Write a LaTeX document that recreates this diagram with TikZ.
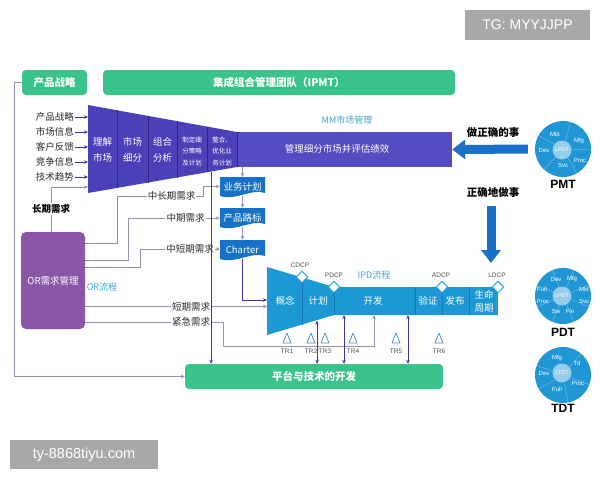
\documentclass[tikz,border=0pt]{standalone}
\usepackage{fontspec}
\newfontfamily\cjk{Noto Sans CJK SC}
\newfontfamily\lat{Liberation Sans}
\usetikzlibrary{arrows.meta,shapes.geometric,calc}
\definecolor{grn}{RGB}{58,196,140}
\definecolor{fpur}{RGB}{76,64,184}
\definecolor{rpur}{RGB}{86,76,194}
\definecolor{orpur}{RGB}{139,86,168}
\definecolor{ipd}{RGB}{28,152,212}
\definecolor{ipddiv}{RGB}{20,120,185}
\definecolor{docb}{RGB}{22,114,200}
\definecolor{arrb}{RGB}{26,112,200}
\definecolor{circ}{RGB}{32,150,212}
\definecolor{lcirc}{RGB}{150,205,236}
\definecolor{lbl}{RGB}{66,164,210}
\definecolor{glinec}{RGB}{150,144,180}
\definecolor{dlinec}{RGB}{64,52,152}
\definecolor{fdiv}{RGB}{48,38,130}
\definecolor{wm}{RGB}{168,168,168}
\definecolor{trc}{RGB}{70,135,185}
\definecolor{txt}{RGB}{40,40,40}
\newcommand\myfs[1]{\fontsize{#1}{#1}\selectfont}
\newcommand\mydoc[4]{%
  \fill[docb] (#2,#3) -- (#2+45,#3) -- (#2+45,#3+16) .. controls (#2+32,#3+11) and (#2+16,#3+24) .. (#2,#3+19) -- cycle;
  \node[doctext] (#1) at (#2+22.5,#3+9.5) {#4};}
\begin{document}
\begin{tikzpicture}[x=1pt,y=-1pt,
  every node/.style={font=\cjk\myfs{9.5}, inner sep=1pt, text=txt},
  gbox/.style={fill=grn, rounded corners=4pt, text=white, font=\cjk\bfseries\myfs{10.5}, inner sep=0pt},
  wt/.style={text=white, align=center},
  fl/.style={text=white, align=center, font=\cjk\fontsize{9.5}{15.5}\selectfont},
  fls/.style={text=white, align=center, font=\cjk\fontsize{6.5}{11.5}\selectfont},
  doctext/.style={text=white, minimum width=45pt, minimum height=19pt, inner sep=0pt},
  gl/.style={draw=glinec, line width=0.7pt},
  dl/.style={draw=dlinec, line width=0.8pt},
  tip/.style={-{Stealth[length=4pt,width=3.5pt]}},
  dtip/.style={{Stealth[length=4pt,width=3.5pt]}-{Stealth[length=4pt,width=3.5pt]}},
  dmd/.style={diamond, draw=ipd, fill=white, line width=0.9pt, minimum size=12pt, inner sep=0pt},
  cp/.style={font=\lat\myfs{6.5}, text=black!70},
  lb/.style={text=lbl, font=\cjk\myfs{9}},
  bl/.style={font=\cjk\bfseries\myfs{10.5}, text=black},
  cl/.style={font=\lat\myfs{6}, text=white, inner sep=0pt},
  bigc/.style={circle, fill=circ, minimum size=56pt, inner sep=0pt},
  smc/.style={circle, fill=lcirc, minimum size=19pt, inner sep=0pt, text=white, font=\lat\myfs{5.5}},
  sep/.style={white, opacity=0.35, line width=0.5pt},
  bigarr/.style={arrb, line width=9pt, -{Triangle[length=13pt 0,width=19pt 0]}}
]
\useasboundingbox (0,0) rectangle (600,480);

% watermarks
\node[fill=wm, text=white, font=\lat\myfs{14}, minimum width=125pt, minimum height=30pt, inner sep=0pt] (wmtop) at (527.5,25) {TG: MYYJJPP};
\node[fill=wm, text=white, font=\lat\myfs{14.5}, minimum width=148pt, minimum height=29pt, inner sep=0pt] (wmbot) at (84,454.5) {ty-8868tiyu.com};

% top boxes
\node[gbox, minimum width=65pt, minimum height=25pt] (cpzl) at (54.5,82.5) {产品战略};
\node[gbox, minimum width=352pt, minimum height=25pt] (ipmt) at (279,82.5) {集成组合管理团队（IPMT）};

% MM funnel
\fill[fpur] (88,105) -- (237,132) -- (237,167) -- (88,193) -- cycle;
\node[fill=rpur, minimum width=215pt, minimum height=35pt, inner sep=0pt] (mm) at (344.5,149.5) {};
\draw[fdiv, line width=0.6pt] (117,110.3) -- (117,187.9) (148,115.9) -- (148,182.5)
  (177,121.1) -- (177,177.5) (207,126.6) -- (207,172.2) (237,132) -- (237,167);
\node[fl] (f1) at (102.5,150) {理解\\市场};
\node[fl] (f2) at (132.5,150) {市场\\细分};
\node[fl] (f3) at (162.5,150) {组合\\分析};
\node[fls] (f4) at (192,151.5) {制定细\\分策略\\及计划};
\node[fls] (f5) at (222,151.5) {整合、\\优化业\\务计划};
\node[text=white] (mmtxt) at (337,149) {管理细分市场并评估绩效};
\node[lb] (mmlbl) at (347,120) {MM市场管理};

% inputs
\coordinate (fleft) at (88,0);
\foreach \t/\y [count=\i] in {产品战略/117,市场信息/132,客户反馈/147,竞争信息/162,技术趋势/177}{
  \node[anchor=east] (in\i) at (75,\y) {\t};
  \draw[dl, line width=0.6pt, tip] (in\i.east) -- (in\i.east -| fleft);
}

% OR box
\node[fill=orpur, rounded corners=5pt, minimum width=64pt, minimum height=97pt, text=white, inner sep=0pt] (or) at (53,280.5) {OR需求管理};
\node[lb] (orl) at (102,287) {OR流程};

% long-term
\coordinate (ltin) at (88,187);
\draw[gl,tip] ([xshift=-2pt]or.north) |- (ltin);
\node[fill=white, font=\cjk\bfseries\myfs{9.5}, text=black] (cq) at (51,209) {长期需求};

% doc boxes
\mydoc{yw}{220}{177}{业务计划}
\mydoc{cplb}{220}{208}{产品路标}
\mydoc{charter}{220}{240}{Charter}
\draw[gl,tip] (mm.south -| yw) -- (yw.north);
\draw[gl,tip] (yw.south) -- (cplb.north);
\draw[gl,tip] (cplb.south) -- (charter.north);

% platform
\node[gbox, minimum width=258pt, minimum height=25pt] (plat) at (314,376.5) {平台与技术的开发};

% demand labels
\node (zcq) at (171.5,196) {中长期需求};
\node (zq) at (185.5,218) {中期需求};
\node (zdq) at (190,249) {中短期需求};
\node (dq) at (191,306.5) {短期需求};
\node (jj) at (191,322) {紧急需求};

% IPD
\fill[ipd] (267,267) -- (334,287) -- (334,315) -- (267,335) -- cycle;
\node[fill=ipd, minimum width=164pt, minimum height=28pt, inner sep=0pt] (ipdr) at (416,301) {};
\draw[ipddiv, line width=0.6pt] (302,277.4) -- (302,324.6) (334,287) -- (334,315)
  (415,287) -- (415,315) (442,287) -- (442,315) (469,287) -- (469,315);
\node[text=white] (gn) at (285,301) {概念};
\node[text=white] (jh) at (318,301) {计划};
\node[text=white] (kf) at (373,301) {开发};
\node[text=white] (yz) at (428,301) {验证};
\node[text=white] (fbu) at (455,301) {发布};
\node[text=white, align=center, font=\cjk\fontsize{9.5}{13}\selectfont] (smzq) at (484,301.5) {生命\\周期};
\node[dmd] (cdcp) at (302,277) {};
\node[dmd] (pdcp) at (334,287) {};
\node[dmd] (adcp) at (442,287) {};
\node[dmd] (ldcp) at (498,287) {};
\node[cp] (cdcpl) at (300,265) {CDCP};
\node[cp] (pdcpl) at (334,275) {PDCP};
\node[cp] (adcpl) at (441,275) {ADCP};
\node[cp] (ldcpl) at (497,275) {LDCP};
\node[lb] (ipdl) at (374,275) {IPD流程};
\foreach \x/\t [count=\i] in {287/TR1,311/TR2,325/TR3,353/TR4,396/TR5,439/TR6}{
  \draw[trc, line width=0.7pt, line join=round] (\x-4,343) -- (\x,333) -- (\x+4,343) -- cycle;
  \node[cp] (tr\i) at (\x,351) {\t};
}

% connectors from OR
\draw[gl] ([yshift=37.5pt]or.east) -- ++(32,0) |- (zcq.west);
\draw[gl,tip] (zcq.east) -- ++(7,0) |- (yw.west);
\draw[gl] ([yshift=20.5pt]or.east) -- ++(43,0) |- (zq.west);
\draw[gl,tip] (zq.east) -- (zq.east -| cplb.west);
\draw[gl] ([yshift=13.5pt]or.east) -- ++(55,0) |- (zdq.west);
\draw[gl,tip] (zdq.east) -- (zdq.east -| charter.west);
\coordinate (ipdin) at (267,0);
\draw[gl] (or.east |- dq.west) -- (dq.west);
\draw[gl,tip] (dq.east) -- (dq.east -| ipdin);
\draw[gl] (or.east |- jj.west) -- (jj.west);
\coordinate (kfin) at (374,315);
\draw[gl,tip] (jj.east) -- ++(12,0) -- ++(0,24) -| (kfin);

% dark connectors
\coordinate (fb) at (211,171.5);
\draw[dl,tip] (fb) -- (fb |- plat.north);
\coordinate (ci) at (267,300);
\draw[dl,tip] (charter.south) |- (ci);
\coordinate (d1) at (317,320.5);
\coordinate (d2) at (344,315);
\coordinate (d3) at (408,315);
\draw[dl,dtip] (d1) -- (d1 |- plat.north);
\draw[dl,dtip] (d2) -- (d2 |- plat.north);
\draw[dl,dtip] (d3) -- (d3 |- plat.north);

% left long line
\draw[gl,tip] (cpzl.west) -- ++(-7,0) |- (plat.west);

% right side
\node[bl] (zqs) at (493,133) {做正确的事};
\node[bl] (zqz) at (493,193) {正确地做事};
\node[bigc] (pmt) at (563,149) {};
\node[bigc] (pdt) at (563,296) {};
\node[bigc] (tdt) at (563,375) {};
\foreach \a in {-74,2,61,133,209}{\draw[sep] ($(pmt)+(\a:9.5)$) -- ($(pmt)+(\a:28)$);}
\foreach \a in {-90,-45,0,45,90,135,180,225}{\draw[sep] ($(pdt)+(\a+22.5:9.5)$) -- ($(pdt)+(\a+22.5:28)$);}
\foreach \a in {-50,20,80,150,200}{\draw[sep] ($(tdt)+(\a:9.5)$) -- ($(tdt)+(\a:28)$);}
\node[smc] (lpmt) at ($(pmt)+(-1,1)$) {LPMT};
\node[smc] (lpdt) at ($(pdt)+(-1,0)$) {LPDT};
\node[smc] (ltdt) at ($(tdt)+(-1,-2)$) {LTDT};
\node[cl] (pm1) at ($(pmt)+(-8,-15)$) {Mkt};
\node[cl] (pm2) at ($(pmt)+(16,-8)$) {Mfg};
\node[cl] (pm3) at ($(pmt)+(17,11)$) {Proc};
\node[cl] (pm4) at ($(pmt)+(0,16)$) {Svc};
\node[cl] (pm5) at ($(pmt)+(-19,1)$) {Dev};
\node[cl] (pd1) at ($(pdt)+(-7,-17)$) {Dev};
\node[cl] (pd2) at ($(pdt)+(9,-17)$) {Mfg};
\node[cl] (pd3) at ($(pdt)+(-21,-7)$) {Full};
\node[cl] (pd4) at ($(pdt)+(21,-7)$) {Mkt};
\node[cl] (pd5) at ($(pdt)+(-20,5)$) {Proc};
\node[cl] (pd6) at ($(pdt)+(21,5)$) {Svc};
\node[cl] (pd7) at ($(pdt)+(-7,15)$) {Sw};
\node[cl] (pd8) at ($(pdt)+(7,15)$) {Fin};
\node[cl] (td1) at ($(tdt)+(-6,-17)$) {Mfg};
\node[cl] (td2) at ($(tdt)+(14,-12)$) {Td};
\node[cl] (td3) at ($(tdt)+(-19,-2)$) {Dev};
\node[cl] (td4) at ($(tdt)+(15,8)$) {Proc};
\node[cl] (td5) at ($(tdt)+(-6,14)$) {Full};
\node[font=\lat\bfseries\myfs{12}, text=black] (pmtl) at (563,184) {PMT};
\node[font=\lat\bfseries\myfs{12}, text=black] (pdtl) at (563,332) {PDT};
\node[font=\lat\bfseries\myfs{12}, text=black] (tdtl) at (563,408) {TDT};
\draw[bigarr, shorten <=7pt] (pmt.west) -- (mm.east);
\coordinate (dat) at (491,263);
\draw[bigarr] ([yshift=-7pt]zqz.south -| dat) -- (dat);
\end{tikzpicture}
\end{document}
